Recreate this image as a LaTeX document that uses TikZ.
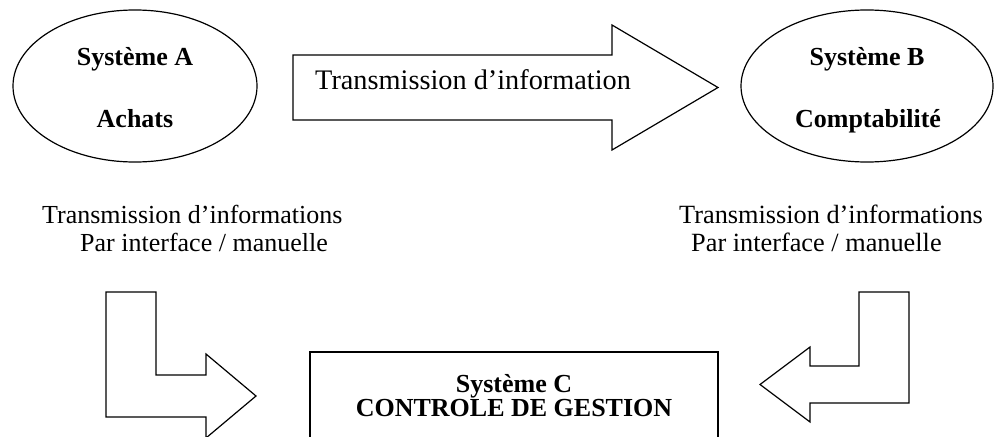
\documentclass[tikz,border=0pt]{standalone}
\usepackage{fontspec}
\setmainfont{Liberation Serif}
\usetikzlibrary{shapes.geometric}
\begin{document}
\begin{tikzpicture}[x=1pt,y=-1pt,
  shape line/.style={draw=black,line width=1.2pt,line join=miter},
  oval/.style={ellipse,shape line,inner sep=0pt},
  bold text/.style={font=\fontsize{26}{26}\selectfont\bfseries,inner sep=0pt,anchor=base},
  label text/.style={font=\fontsize{26}{26}\selectfont,inner sep=0pt,anchor=base west},
  big text/.style={font=\fontsize{28.3}{28.3}\selectfont,inner sep=0pt,anchor=base west}]
\useasboundingbox (0,0) rectangle (995,436);
\clip (0,0) rectangle (995,436);
% Ellipses
\node[oval,minimum width=244pt,minimum height=152pt] (sysA) at (135,86) {};
\node[oval,minimum width=252pt,minimum height=152pt] (sysB) at (867,86) {};
\node[bold text] (sysAt) at (135,65) {Système A};
\node[bold text] (sysAb) at (135,127) {Achats};
\node[bold text] (sysBt) at (867,65) {Système B};
\node[bold text] (sysBb) at (868,127) {Comptabilité};
% Top block arrow
\draw[shape line] (293,55) -- (612,55) -- (612,25) -- (718,87.5) -- (612,150) -- (612,120) -- (293,120) -- cycle;
\node[big text] (toptext) at (315,89) {Transmission d’information};
% Labels
\node[label text] (l1) at (42,223) {Transmission d’informations};
\node[label text] (l2) at (80,251) {Par interface / manuelle};
\node[label text,font=\fontsize{26.3}{26.3}\selectfont] (r1) at (679,223) {Transmission d’informations};
\node[label text,font=\fontsize{26.3}{26.3}\selectfont] (r2) at (691,251) {Par interface / manuelle};
% Bottom-left L arrow
\draw[shape line] (106,292) -- (156,292) -- (156,375) -- (206,375) -- (206,354) -- (256,396) -- (206,438) -- (206,417) -- (106,417) -- cycle;
% Bottom-right L arrow
\draw[shape line] (859,292) -- (909,292) -- (909,403) -- (810,403) -- (810,422) -- (760,384.5) -- (810,347) -- (810,366) -- (859,366) -- cycle;
% Box C
\coordinate (cbl) at (310,460);
\coordinate (cbr) at (718,460);
\draw[shape line] (cbl) -- (310,352) -- (718,352) -- (cbr);
\node[bold text] (sysCt) at (514,392) {Système C};
\node[bold text] (sysCb) at (514,416) {CONTROLE DE GESTION};
\end{tikzpicture}
\end{document}
